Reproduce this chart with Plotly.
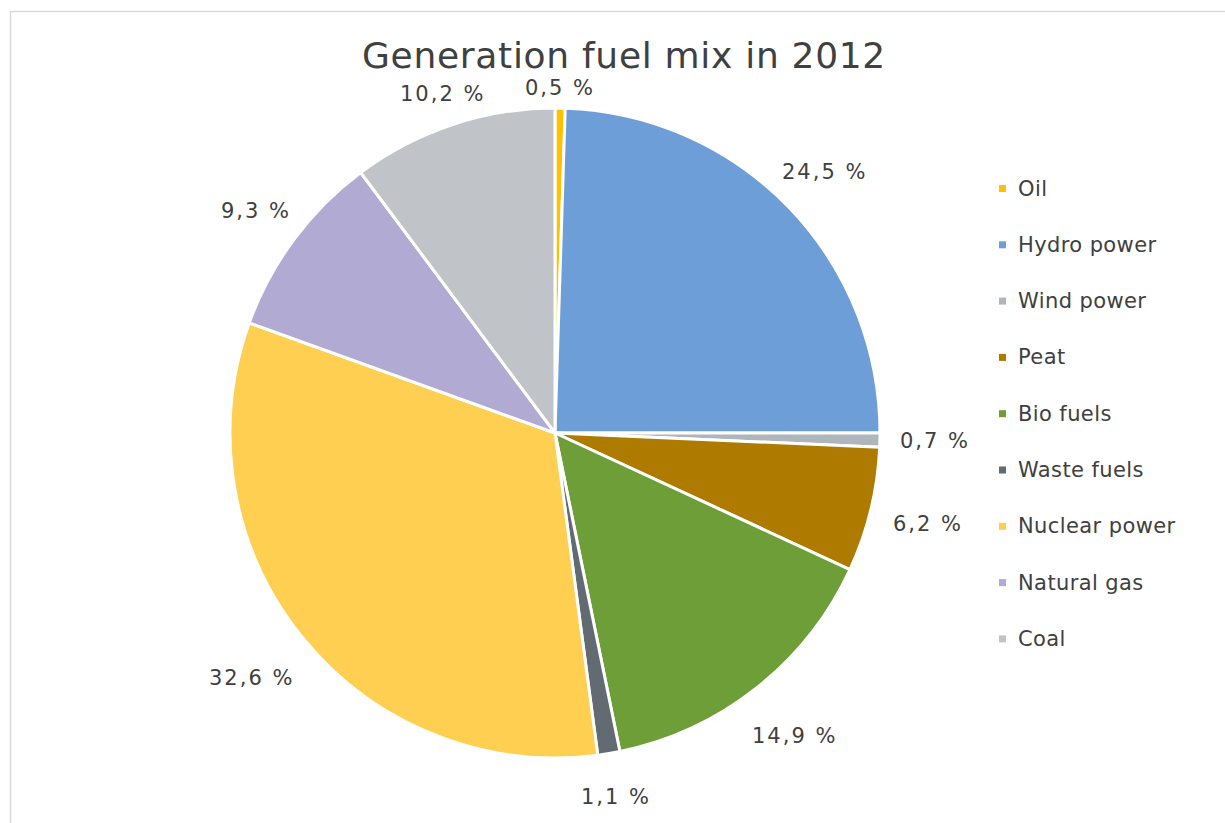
import math
import plotly.graph_objects as go

# Electricity generation by fuel, 2012 (share of total, %)
categories = ["Oil", "Hydro power", "Wind power", "Peat", "Bio fuels",
              "Waste fuels", "Nuclear power", "Natural gas", "Coal"]
shares = [0.5, 24.5, 0.7, 6.2, 14.9, 1.1, 32.6, 9.3, 10.2]
colors = ["#FFC000", "#6E9ED8", "#AEB5BB", "#AE7B00", "#6E9E37",
          "#636B72", "#FFCF52", "#B1ABD3", "#C0C4C8"]

W, H = 1225, 823
CX, CY, R = 555, 433, 325          # pie centre and radius in pixels
FONT = "DejaVu Sans"
TEXT = "#404040"
LABEL_SIZE = 21
LABEL_TRACK = 2.0                  # letter spacing of the value labels, px

# approximate advance widths (em) used to keep labels clear of the pie
ADV = {",": 0.318, " ": 0.318, "%": 0.95}


def px(x):
    return x / W


def py(y):
    return 1 - y / H


def spaced(text, track):
    return f'<span style="letter-spacing:{track}px">{text}</span>'


def text_width(text):
    em = sum(ADV.get(ch, 0.636) for ch in text)
    return em * LABEL_SIZE + LABEL_TRACK * len(text)


fig = go.Figure(go.Pie(
    labels=categories,
    values=shares,
    sort=False,
    direction="clockwise",
    rotation=0,
    marker=dict(colors=colors, line=dict(color="white", width=3)),
    textinfo="none",
    hoverinfo="label+percent",
    showlegend=False,
    domain=dict(x=[px(CX - R), px(CX + R)], y=[py(CY + R), py(CY - R)]),
))

annotations = []
shapes = []

# Percentage labels just outside each slice, centred on the slice direction;
# labels in the lower half sit a little further from the rim
total = sum(shares)
cum = 0.0
for v in shares:
    mid = math.radians((cum + v / 2) / total * 360)
    cum += v
    s, c = math.sin(mid), math.cos(mid)
    label = f"{v:.1f} %".replace(".", ",")
    hw = text_width(label) / 2
    hh = 9
    gap = 10 + 10 * (1 - c)
    r = R + gap + abs(s) * hw + abs(c) * hh
    annotations.append(dict(
        x=px(CX + r * s), y=py(CY - r * c), xref="paper", yref="paper",
        text=spaced(label, LABEL_TRACK),
        showarrow=False, xanchor="center", yanchor="middle",
        font=dict(family=FONT, size=LABEL_SIZE, color=TEXT),
    ))

# Legend on the right
leg_x, leg_y0, leg_step, sq = 1002.5, 188.5, 56.3, 7
for i, (name, col) in enumerate(zip(categories, colors)):
    yc = leg_y0 + i * leg_step
    shapes.append(dict(
        type="rect", xref="paper", yref="paper",
        x0=px(leg_x - sq / 2), x1=px(leg_x + sq / 2),
        y0=py(yc + sq / 2), y1=py(yc - sq / 2),
        fillcolor=col, line=dict(width=0),
    ))
    annotations.append(dict(
        x=px(1016), y=py(yc), xref="paper", yref="paper",
        text=spaced(name, 0.4), showarrow=False,
        xanchor="left", yanchor="middle",
        font=dict(family=FONT, size=21, color=TEXT),
    ))

# Chart frame
shapes.append(dict(
    type="rect", xref="paper", yref="paper",
    x0=px(10.5), y0=py(11.5), x1=px(W + 20), y1=py(H + 20),
    line=dict(color="#D9D9D9", width=1.5), fillcolor="rgba(0,0,0,0)",
))

fig.update_layout(
    width=W, height=H,
    margin=dict(l=0, r=0, t=0, b=0),
    paper_bgcolor="white",
    plot_bgcolor="white",
    title=dict(
        text=spaced("Generation fuel mix in 2012", 0.7),
        x=px(624), y=py(55), xanchor="center", yanchor="middle",
        xref="paper", yref="paper",
        font=dict(family=FONT, size=36, color=TEXT),
    ),
    annotations=annotations,
    shapes=shapes,
)

fig.write_html("out.html")
